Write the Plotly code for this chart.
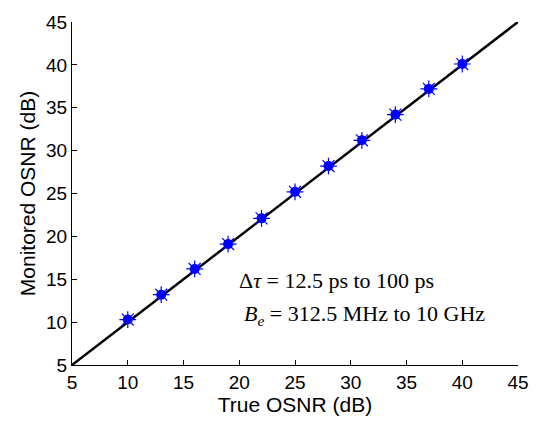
import plotly.graph_objects as go

true_osnr = [10, 13, 16, 19, 22, 25, 28, 31, 34, 37, 40]
monitored_osnr = [10.3, 13.2, 16.2, 19.1, 22.1, 25.2, 28.2, 31.2, 34.2, 37.2, 40.1]
ref_line = [5, 45]
tick_vals = [5, 10, 15, 20, 25, 30, 35, 40, 45]

fig = go.Figure()
fig.add_trace(go.Scatter(x=ref_line, y=ref_line, mode="lines",
                         line=dict(color="black", width=2.5), showlegend=False))
fig.add_trace(go.Scatter(x=true_osnr, y=monitored_osnr, mode="markers",
                         marker=dict(symbol="circle", size=10, color="#0000ff"),
                         showlegend=False))
fig.add_trace(go.Scatter(x=true_osnr, y=monitored_osnr, mode="markers",
                         marker=dict(symbol="asterisk-open", size=14, color="#0000ff",
                                     line=dict(color="#0000ff", width=1.2)),
                         showlegend=False))

font_sans = "Liberation Sans, Arial"
axis_common = dict(range=[5, 45], tickvals=tick_vals, ticks="inside", ticklen=5,
                   tickcolor="black", showline=True, linecolor="black", linewidth=1,
                   showgrid=False, zeroline=False,
                   tickfont=dict(family=font_sans, size=19, color="black"))
fig.update_xaxes(**axis_common, title=dict(text="True OSNR (dB)", standoff=2,
                 font=dict(family=font_sans, size=21, color="black")))
fig.update_yaxes(**axis_common, title=dict(text="Monitored OSNR (dB)", standoff=4,
                 font=dict(family=font_sans, size=21, color="black")))

font_serif = "Liberation Serif, Times New Roman"
fig.add_annotation(x=0.37, y=0.246, xref="paper", yref="paper", xanchor="left", yanchor="middle",
                   text="Δ<i>τ</i> = 12.5 ps to 100 ps", showarrow=False,
                   font=dict(family=font_serif, size=22, color="black"))
fig.add_annotation(x=0.381, y=0.147, xref="paper", yref="paper", xanchor="left", yanchor="middle",
                   text="<i>B<sub>e</sub></i> = 312.5 MHz to 10 GHz", showarrow=False,
                   font=dict(family=font_serif, size=22, color="black"))

fig.update_layout(width=541, height=426, margin=dict(l=72, r=16, t=12, b=61),
                  plot_bgcolor="white", paper_bgcolor="white")
fig.write_html("out.html")
